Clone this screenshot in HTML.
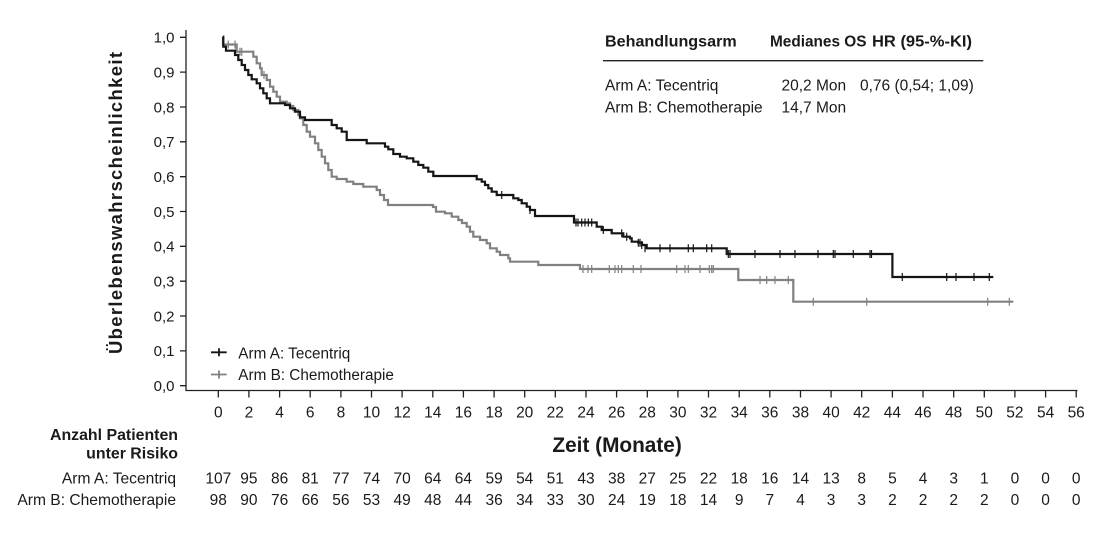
<!DOCTYPE html>
<html><head><meta charset="utf-8"><style>
html,body{margin:0;padding:0;background:#fff;}
svg{display:block;}
text{font-family:"Liberation Sans",Arial,sans-serif;fill:#1a1a1a;}
.b{font-weight:bold;}
</style></head><body>
<svg width="1097" height="542" viewBox="0 0 1097 542" xmlns="http://www.w3.org/2000/svg">
<rect width="1097" height="542" fill="#fff"/>
<!-- axes -->
<g stroke="#222" stroke-width="1.3" fill="none">
<path d="M186,30 V390.5 H1077.5"/>
<path d="M180,37.3H186 M180,72.1H186 M180,107H186 M180,141.8H186 M180,176.7H186 M180,211.5H186 M180,246.3H186 M180,281.2H186 M180,316H186 M180,350.9H186 M180,385.7H186"/>
<path d="M218.3,390.5V397.5 M248.9,390.5V397.5 M279.6,390.5V397.5 M310.2,390.5V397.5 M340.9,390.5V397.5 M371.5,390.5V397.5 M402.1,390.5V397.5 M432.8,390.5V397.5 M463.4,390.5V397.5 M494.1,390.5V397.5 M524.7,390.5V397.5 M555.3,390.5V397.5 M586,390.5V397.5 M616.6,390.5V397.5 M647.3,390.5V397.5 M677.9,390.5V397.5 M708.5,390.5V397.5 M739.2,390.5V397.5 M769.8,390.5V397.5 M800.5,390.5V397.5 M831.1,390.5V397.5 M861.7,390.5V397.5 M892.4,390.5V397.5 M923,390.5V397.5 M953.7,390.5V397.5 M984.3,390.5V397.5 M1014.9,390.5V397.5 M1045.6,390.5V397.5 M1076.2,390.5V397.5"/>
</g>
<!-- y tick labels -->
<g font-size="15" text-anchor="end">
<text x="174.5" y="42.6">1,0</text><text x="174.5" y="77.4">0,9</text><text x="174.5" y="112.3">0,8</text><text x="174.5" y="147.1">0,7</text><text x="174.5" y="182">0,6</text><text x="174.5" y="216.8">0,5</text><text x="174.5" y="251.6">0,4</text><text x="174.5" y="286.5">0,3</text><text x="174.5" y="321.3">0,2</text><text x="174.5" y="356.2">0,1</text><text x="174.5" y="391">0,0</text>
</g>
<!-- x tick labels -->
<g font-size="15.5" text-anchor="middle">
<text x="218.3" y="417.7">0</text><text x="248.9" y="417.7">2</text><text x="279.6" y="417.7">4</text><text x="310.2" y="417.7">6</text><text x="340.9" y="417.7">8</text><text x="371.5" y="417.7">10</text><text x="402.1" y="417.7">12</text><text x="432.8" y="417.7">14</text><text x="463.4" y="417.7">16</text><text x="494.1" y="417.7">18</text><text x="524.7" y="417.7">20</text><text x="555.3" y="417.7">22</text><text x="586" y="417.7">24</text><text x="616.6" y="417.7">26</text><text x="647.3" y="417.7">28</text><text x="677.9" y="417.7">30</text><text x="708.5" y="417.7">32</text><text x="739.2" y="417.7">34</text><text x="769.8" y="417.7">36</text><text x="800.5" y="417.7">38</text><text x="831.1" y="417.7">40</text><text x="861.7" y="417.7">42</text><text x="892.4" y="417.7">44</text><text x="923" y="417.7">46</text><text x="953.7" y="417.7">48</text><text x="984.3" y="417.7">50</text><text x="1014.9" y="417.7">52</text><text x="1045.6" y="417.7">54</text><text x="1076.2" y="417.7">56</text>
</g>
<!-- axis titles -->
<text class="b" font-size="18.5" transform="translate(122,354) rotate(-90)" textLength="302" lengthAdjust="spacing">Überlebenswahrscheinlichkeit</text>
<text class="b" font-size="20.8" x="552.4" y="452">Zeit (Monate)</text>
<!-- curves -->
<path fill="none" stroke="#808080" stroke-width="2.2" d="M223,37 V44.5 H236.7 V51.7 H253.3 V56.7 H256.7 V63.3 H260 V68.3 H261.7 V75 H266.7 V80 H270 V86.7 H273.3 V91.7 H276.7 V96.7 H280 V101.7 H286.7 V103.3 H290 V106 H293.3 V110 H298.3 V115 H300 V118.3 H303.3 V125 H306.7 V131.7 H310 V136.7 H315 V143.3 H318.3 V150 H321.7 V156.7 H325 V163.3 H328.3 V170 H331.7 V176.7 H336.7 V179 H346.7 V181.7 H353.3 V184 H363.3 V186.7 H376.7 V190 H380 V195 H384 V200 H388 V205 H433 V207 H436 V211.7 H445 V213.3 H451.7 V216.7 H458.3 V220 H462 V223 H466.7 V226.7 H470 V231.7 H473.3 V236.7 H480 V240 H486.7 V243.3 H490 V248.3 H496.7 V251.7 H500 V255 H508.3 V258.3 H510 V261.7 H538.3 V265 H580 V269 H738.3 V280 H793.3 V301.7 H1013.3"/>
<path fill="none" stroke="#151515" stroke-width="2.2" d="M222.7,36.7 H223.3 V46.7 H226 V50.7 H235 V55 H238.3 V60 H241.7 V65 H245 V70 H248.3 V75 H251.7 V79.3 H256.7 V83.3 H260 V88.3 H263.3 V93.3 H266.7 V98.3 H270 V103.3 H285 V105 H290 V108.3 H295 V111.7 H300 V117.3 H305 V120 H331.7 V125 H336.7 V128.3 H341.7 V131.7 H346.7 V140 H366.7 V143.3 H385 V146.7 H388.3 V149.3 H393.3 V154 H400 V156.7 H406.7 V158.3 H413.3 V161.7 H418.3 V165 H423.3 V167.7 H428.3 V171.7 H433.3 V176 H476.7 V179.3 H481.7 V181.7 H485 V185 H488.3 V188.3 H491.7 V191.7 H496.7 V195 H513.3 V198.3 H518.3 V200 H521.7 V203.3 H526.7 V206.7 H530 V210 H535 V216 H574 V222.5 H596.7 V226.7 H601.7 V230 H611.7 V233.3 H623.3 V236.7 H630 V238.3 H631.7 V241.7 H638.3 V242.7 H642 V245 H646.7 V248.3 H726.7 V254 H892.4 V277 H993.3"/>
<!-- censor ticks gray -->
<path fill="none" stroke="#808080" stroke-width="1.2" d="M228.3,40.5v8 M235,40.5v8 M240,47.7v8 M241.7,47.7v8 M264,71v8 M583,265v8 M588,265v8 M591.7,265v8 M609.3,265v8 M615,265v8 M618.3,265v8 M621.7,265v8 M633.3,265v8 M641,265v8 M676.7,265v8 M685,265v8 M688.3,265v8 M700,265v8 M709.3,265v8 M711.7,265v8 M713.3,265v8 M760,276v8 M766.7,276v8 M775,276v8 M788.3,276v8 M813.3,297.7v8 M866.7,297.7v8 M987.7,297.7v8 M1009.3,297.7v8"/>
<!-- censor ticks black -->
<path fill="none" stroke="#151515" stroke-width="1.2" d="M501.7,191v8 M530,206v8 M576,218.5v8 M578,218.5v8 M581.7,218.5v8 M585,218.5v8 M588.3,218.5v8 M591.7,218.5v8 M603.3,226v8 M621.7,229.3v8 M626.7,232.7v8 M638.3,238.7v8 M640,238.7v8 M641.7,241v8 M645,244.3v8 M660,244.3v8 M670,244.3v8 M688.3,244.3v8 M693.3,244.3v8 M706.7,244.3v8 M711.7,244.3v8 M728.3,250v8 M730,250v8 M755,250v8 M780,250v8 M795,250v8 M818,250v8 M833.3,250v8 M835,250v8 M853.3,250v8 M870,250v8 M871.5,250v8 M902.3,273v8 M946.7,273v8 M956,273v8 M974,273v8 M989.3,273v8"/>
<!-- legend -->
<path d="M211,352.3H226.7 M219,348.3v8" stroke="#151515" stroke-width="1.8" fill="none"/>
<path d="M211,374.5H226.7 M219,370.5v8" stroke="#808080" stroke-width="1.8" fill="none"/>
<text font-size="15.3" x="238.3" y="358.3">Arm A: Tecentriq</text>
<text font-size="15.3" x="238.3" y="380">Arm B: Chemotherapie</text>
<!-- table -->
<text class="b" font-size="15.8" x="605" y="46.7" textLength="131.7" lengthAdjust="spacingAndGlyphs">Behandlungsarm</text>
<text class="b" font-size="15.4" x="770" y="46.7" textLength="96.5" lengthAdjust="spacingAndGlyphs">Medianes OS</text>
<text class="b" font-size="15.4" x="872" y="46.7" textLength="100" lengthAdjust="spacingAndGlyphs">HR (95-%-KI)</text>
<path d="M603,60.7H983.3" stroke="#222" stroke-width="1.4"/>
<text font-size="15.5" x="605" y="90.7">Arm A: Tecentriq</text>
<text font-size="15.5" x="781.5" y="90.7">20,2 Mon</text>
<text font-size="15.5" x="860" y="90.7">0,76 (0,54; 1,09)</text>
<text font-size="15.5" x="605" y="112.7">Arm B: Chemotherapie</text>
<text font-size="15.5" x="781.5" y="112.7">14,7 Mon</text>
<!-- at risk -->
<text class="b" font-size="15.9" x="178" y="440" text-anchor="end">Anzahl Patienten</text>
<text class="b" font-size="15.9" x="178" y="458.3" text-anchor="end">unter Risiko</text>
<text font-size="15.6" x="176" y="483.3" text-anchor="end">Arm A: Tecentriq</text>
<text font-size="15.6" x="176" y="505" text-anchor="end">Arm B: Chemotherapie</text>
<g font-size="15.5" text-anchor="middle">
<text x="218.3" y="483.3">107</text><text x="248.9" y="483.3">95</text><text x="279.6" y="483.3">86</text><text x="310.2" y="483.3">81</text><text x="340.9" y="483.3">77</text><text x="371.5" y="483.3">74</text><text x="402.1" y="483.3">70</text><text x="432.8" y="483.3">64</text><text x="463.4" y="483.3">64</text><text x="494.1" y="483.3">59</text><text x="524.7" y="483.3">54</text><text x="555.3" y="483.3">51</text><text x="586" y="483.3">43</text><text x="616.6" y="483.3">38</text><text x="647.3" y="483.3">27</text><text x="677.9" y="483.3">25</text><text x="708.5" y="483.3">22</text><text x="739.2" y="483.3">18</text><text x="769.8" y="483.3">16</text><text x="800.5" y="483.3">14</text><text x="831.1" y="483.3">13</text><text x="861.7" y="483.3">8</text><text x="892.4" y="483.3">5</text><text x="923" y="483.3">4</text><text x="953.7" y="483.3">3</text><text x="984.3" y="483.3">1</text><text x="1014.9" y="483.3">0</text><text x="1045.6" y="483.3">0</text><text x="1076.2" y="483.3">0</text>
<text x="218.3" y="505">98</text><text x="248.9" y="505">90</text><text x="279.6" y="505">76</text><text x="310.2" y="505">66</text><text x="340.9" y="505">56</text><text x="371.5" y="505">53</text><text x="402.1" y="505">49</text><text x="432.8" y="505">48</text><text x="463.4" y="505">44</text><text x="494.1" y="505">36</text><text x="524.7" y="505">34</text><text x="555.3" y="505">33</text><text x="586" y="505">30</text><text x="616.6" y="505">24</text><text x="647.3" y="505">19</text><text x="677.9" y="505">18</text><text x="708.5" y="505">14</text><text x="739.2" y="505">9</text><text x="769.8" y="505">7</text><text x="800.5" y="505">4</text><text x="831.1" y="505">3</text><text x="861.7" y="505">3</text><text x="892.4" y="505">2</text><text x="923" y="505">2</text><text x="953.7" y="505">2</text><text x="984.3" y="505">2</text><text x="1014.9" y="505">0</text><text x="1045.6" y="505">0</text><text x="1076.2" y="505">0</text>
</g>
</svg>
</body></html>
